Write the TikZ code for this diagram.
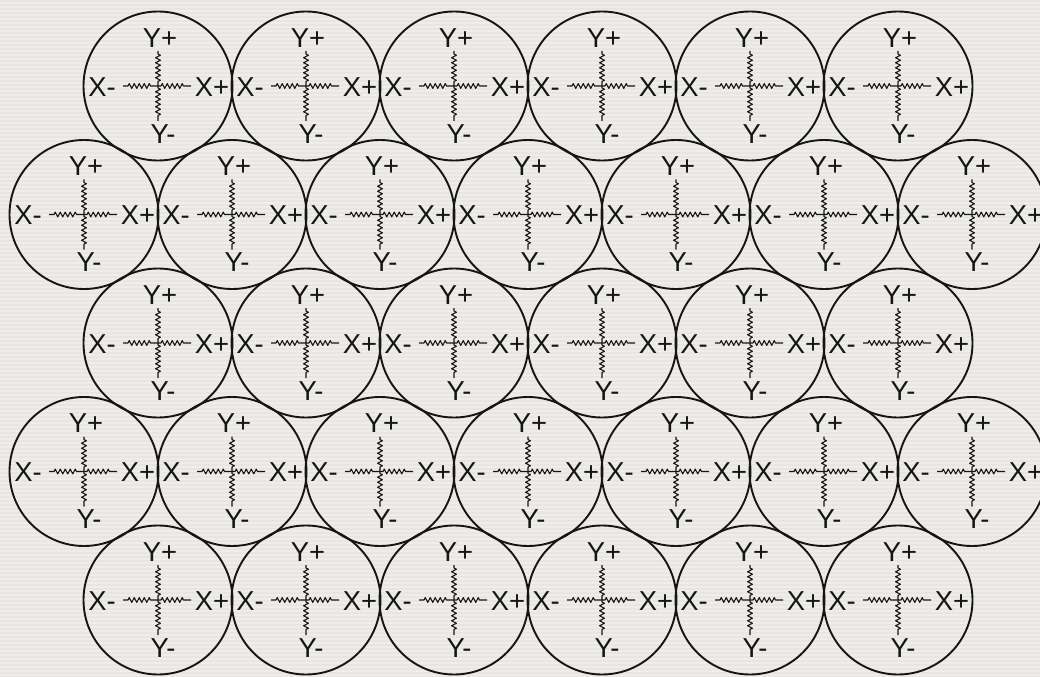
\documentclass[tikz,border=0pt]{standalone}
\usepackage{fontspec}
\setmainfont{Liberation Sans}
\usetikzlibrary{decorations.pathmorphing}
\definecolor{bg}{HTML}{EFEDEA}
\definecolor{stripe}{HTML}{E8E6E3}
\definecolor{ink}{HTML}{151515}
\begin{document}
\begin{tikzpicture}[x=1bp,y=-1bp,
  cell/.style={circle,draw=ink,line width=1.9bp,minimum size=149bp,inner sep=0pt},
  lab/.style={font=\fontsize{27.5}{27.5}\selectfont,text=ink,inner sep=0pt},
  spring/.style={draw=ink,line width=1.1bp,line join=round,
    decoration={zigzag,segment length=5bp,amplitude=2.4bp}}]
\path[use as bounding box] (0,0) rectangle (1040,677);
\clip (0,0) rectangle (1040,677);
\fill[bg] (0,0) rectangle (1040,677);
\foreach \i in {0,4,...,676} \fill[stripe] (0,\i) rectangle (1040,\i+2);
\foreach \r/\yy/\xs/\n in {1/86/158/5, 2/214.5/84/6, 3/343/158/5, 4/471.5/84/6, 5/600/158/5}{
  \foreach \k in {0,...,\n}{
    \pgfmathsetmacro\cx{\xs+148*\k}
    \node[cell] (c\r-\k) at (\cx,\yy) {};
    \node[lab] (yp\r-\k) at ([shift={(2,-48)}]c\r-\k.center) {Y+};
    \node[lab] (ym\r-\k) at ([shift={(5,48)}]c\r-\k.center) {Y-};
    \node[lab] (xm\r-\k) at ([shift={(-56,1)}]c\r-\k.center) {X-};
    \node[lab] (xp\r-\k) at ([shift={(54,1)}]c\r-\k.center) {X+};
    \coordinate (h\r-\k) at ([shift={(-35,0)}]c\r-\k.center);
    \coordinate (v\r-\k) at ([shift={(0,-35)}]c\r-\k.center);
    \draw[spring] (h\r-\k) -- ++(5,0) decorate{-- ++(25,0)} -- ++(8,0)
      decorate{-- ++(25,0)} -- ++(5,0);
    \draw[spring] (v\r-\k) -- ++(0,3) decorate{-- ++(0,30)} -- ++(0,4)
      decorate{-- ++(0,30)} -- ++(0,3);
  }
}
\end{tikzpicture}
\end{document}
